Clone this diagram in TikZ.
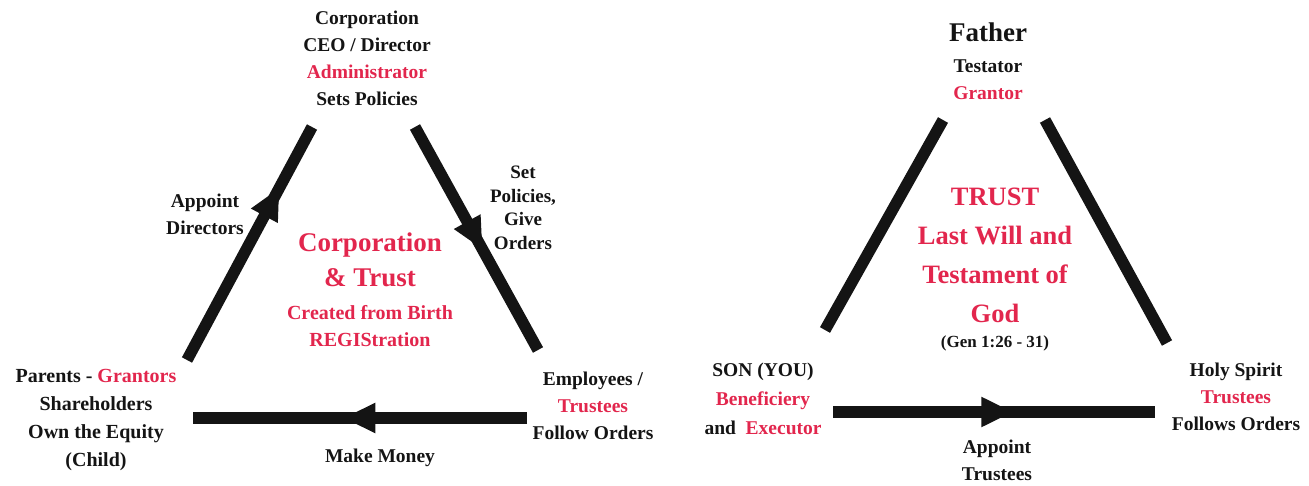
\documentclass[tikz,border=0pt]{standalone}
\usepackage{fontspec}
\setmainfont{Liberation Serif}
\usepackage{xcolor}
\usetikzlibrary{arrows.meta, positioning, decorations.markings}
\definecolor{trustred}{HTML}{E2264D}
\definecolor{trustink}{HTML}{141414}

\begin{document}
\begin{tikzpicture}[x=1pt, y=-1pt,
    txt/.style={font=\bfseries\fontsize{19.5}{27}\selectfont, text=trustink, align=center, inner sep=0pt},
    bigtxt/.style={font=\bfseries\fontsize{27}{35}\selectfont, text=trustred, align=center, inner sep=0pt},
    bar/.style={line width=11.5pt, trustink},
    midarrow/.style={decoration={markings, mark=at position #1 with {\arrow{Triangle[length=32pt,width=28pt]}}}, postaction={decorate}}]
  \useasboundingbox (0,0) rectangle (1309,486);

  % left triangle: corporation
  \node[txt] (ceo) at (367,58) {Corporation\\CEO / Director\\\textcolor{trustred}{Administrator}\\Sets Policies};
  \node[txt] (appdir) at (205,214) {Appoint\\Directors};
  \node[txt, font=\bfseries\fontsize{19}{23.5}\selectfont] (setpol) at (523,208) {Set\\Policies,\\Give\\Orders};
  \node[bigtxt] (corp) at (370,260) {Corporation\\\& Trust};
  \node[txt, text=trustred, font=\bfseries\fontsize{20}{27}\selectfont] (birth) at (370,326) {Created from Birth\\REGIStration};
  \node[txt, font=\bfseries\fontsize{20}{28}\selectfont] (parents) at (96,420) {Parents - \textcolor{trustred}{Grantors}\\Shareholders\\Own the Equity\\(Child)};
  \node[txt] (employ) at (593,406) {Employees /\\\textcolor{trustred}{Trustees}\\Follow Orders};
  \node[txt] (money) at (380,458) {Make Money};

  \coordinate (lbl) at (187,360);
  \coordinate (ltl) at (312,127);
  \coordinate (ltr) at (415,127);
  \coordinate (lbr) at (538,350);
  \coordinate (lhr) at (527,418);
  \coordinate (lhl) at (193,418);
  \draw[bar, midarrow=0.74] (lbl) -- (ltl);
  \draw[bar, midarrow=0.55] (ltr) -- (lbr);
  \draw[bar, midarrow=0.55] (lhr) -- (lhl);

  % right triangle: last will
  \node[txt, font=\bfseries\fontsize{27}{33}\selectfont] (father) at (988,32) {Father};
  \node[txt] (testator) at (988,80) {Testator\\\textcolor{trustred}{Grantor}};
  \node[bigtxt, font=\bfseries\fontsize{26.5}{39}\selectfont] (will) at (995,255) {TRUST\\Last Will and\\Testament of\\God};
  \node[txt, font=\bfseries\fontsize{17}{18}\selectfont] (gen) at (995,343) {(Gen 1:26 - 31)};
  \node[txt, font=\bfseries\fontsize{19.5}{29}\selectfont] (son) at (763,399) {SON (YOU)\\\textcolor{trustred}{Beneficiery}\\and~ \textcolor{trustred}{Executor}};
  \node[txt] (spirit) at (1236,397) {Holy Spirit\\\textcolor{trustred}{Trustees}\\Follows Orders};
  \node[txt] (apptru) at (997,460) {Appoint\\Trustees};

  \coordinate (rbl) at (825,330);
  \coordinate (rtl) at (943,120);
  \coordinate (rtr) at (1045,120);
  \coordinate (rbr) at (1167,343);
  \coordinate (rhl) at (833,412);
  \coordinate (rhr) at (1155,412);
  \draw[bar] (rbl) -- (rtl);
  \draw[bar] (rtr) -- (rbr);
  \draw[bar, midarrow=0.56] (rhl) -- (rhr);
\end{tikzpicture}
\end{document}
